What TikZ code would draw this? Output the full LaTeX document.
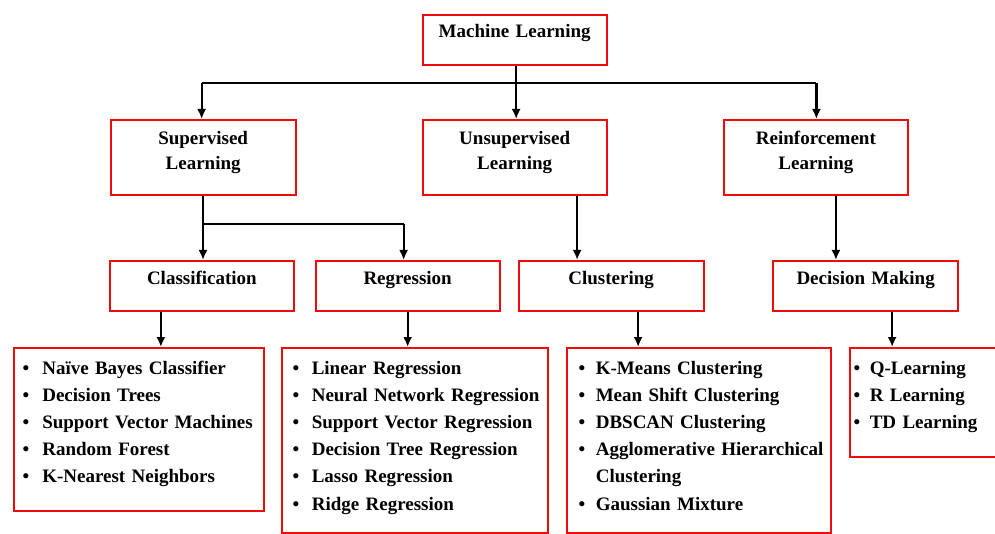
\documentclass[tikz,border=0pt]{standalone}
\usepackage{fontspec}
\setmainfont{Liberation Serif}
\usetikzlibrary{arrows.meta}
\definecolor{boxred}{RGB}{240,10,10}

\begin{document}
\begin{tikzpicture}[x=1pt, y=-1pt,
    box/.style={draw=boxred, line width=2.3pt, inner sep=0pt, anchor=north west, align=center,
        font=\fontsize{19}{25}\selectfont\bfseries},
    listbox/.style={draw=boxred, line width=2.3pt, inner ysep=0pt, anchor=north west, align=left,
        text height=26pt, font=\fontsize{19}{27.2}\selectfont\bfseries},
    link/.style={line width=2.3pt},
    conn/.style={line width=2.3pt, -{Latex[length=10pt,width=9pt]}}]
    \useasboundingbox (0,0) rectangle (995,534);

    % Root
    \node[box, text width=184pt, text height=22pt, text depth=28pt] (ml) at (421.5,14) {Machine Learning};

    % Learning types
    \node[box, text width=185pt, text height=24pt, text depth=51pt] (sup) at (109.5,119) {Supervised\\Learning};
    \node[box, text width=184pt, text height=24pt, text depth=51pt] (uns) at (421.5,119) {Unsupervised\\Learning};
    \node[box, text width=184.5pt, text height=24pt, text depth=51pt] (rl) at (722.5,119) {Reinforcement\\Learning};

    % Tasks
    \node[box, text width=184.5pt, text height=23pt, text depth=27pt] (cla) at (108.5,260) {Classification};
    \node[box, text width=184pt, text height=23pt, text depth=27pt] (reg) at (314.5,260) {Regression};
    \node[box, text width=185pt, text height=23pt, text depth=27pt] (clu) at (517.5,260) {Clustering};
    \node[box, text width=185pt, text height=23pt, text depth=27pt] (dec) at (772,260) {Decision Making};

    % Algorithms
    \node[listbox, inner xsep=9pt, text width=232.5pt, text depth=136.5pt] (clalist) at (12.5,347) {%
        \begin{tabular}[t]{@{}l@{\hspace{13pt}}l@{}}
        \textbullet & Naïve Bayes Classifier\\
        \textbullet & Decision Trees\\
        \textbullet & Support Vector Machines\\
        \textbullet & Random Forest\\
        \textbullet & K-Nearest Neighbors
        \end{tabular}};
    \node[listbox, inner xsep=11pt, text width=244pt, text depth=159pt] (reglist) at (280.5,347) {%
        \begin{tabular}[t]{@{}l@{\hspace{12.5pt}}l@{}}
        \textbullet & Linear Regression\\
        \textbullet & Neural Network Regression\\
        \textbullet & Support Vector Regression\\
        \textbullet & Decision Tree Regression\\
        \textbullet & Lasso Regression\\
        \textbullet & Ridge Regression
        \end{tabular}};
    \node[listbox, inner xsep=12pt, text width=240.5pt, text depth=158.5pt] (clulist) at (565.5,347) {%
        \begin{tabular}[t]{@{}l@{\hspace{10.5pt}}l@{}}
        \textbullet & K-Means Clustering\\
        \textbullet & Mean Shift Clustering\\
        \textbullet & DBSCAN Clustering\\
        \textbullet & Agglomerative Hierarchical\\
                    & Clustering\\
        \textbullet & Gaussian Mixture
        \end{tabular}};
    \node[listbox, inner xsep=4pt, text width=150pt, text depth=83pt] (declist) at (848.5,347) {%
        \begin{tabular}[t]{@{}l@{\hspace{9.5pt}}l@{}}
        \textbullet & Q-Learning\\
        \textbullet & R Learning\\
        \textbullet & TD Learning
        \end{tabular}};

    % Root to learning types
    \coordinate (fork) at (515,83);
    \draw[conn] ([xshift=1.5pt]ml.south) -- ([xshift=1.5pt]ml.south |- uns.north);
    \draw[link] ([xshift=-1.5pt]sup.north |- fork) -- ([xshift=0.5pt]rl.north |- fork);
    \draw[conn] ([xshift=-1.5pt]sup.north |- fork) -- ([xshift=-1.5pt]sup.north);
    \draw[conn] ([xshift=0.5pt]rl.north |- fork) -- ([xshift=0.5pt]rl.north);

    % Learning types to tasks
    \coordinate (supfork) at (203,224);
    \draw[link] (supfork |- sup.south) -- (supfork) -- ([xshift=-4pt]reg.north |- supfork);
    \draw[conn] (supfork) -- (supfork |- cla.north);
    \draw[conn] ([xshift=-4pt]reg.north |- supfork) -- ([xshift=-4pt]reg.north);
    \draw[conn] ([xshift=62.5pt]uns.south) -- ([xshift=62.5pt]uns.south |- clu.north);
    \draw[conn] ([xshift=20pt]rl.south) -- ([xshift=20pt]rl.south |- dec.north);

    % Tasks to algorithms
    \draw[conn] ([xshift=-41pt]cla.south) -- ([xshift=-41pt]cla.south |- clalist.north);
    \draw[conn] (reg.south) -- (reg.south |- reglist.north);
    \draw[conn] ([xshift=27pt]clu.south) -- ([xshift=27pt]clu.south |- clulist.north);
    \draw[conn] ([xshift=26.5pt]dec.south) -- ([xshift=26.5pt]dec.south |- declist.north);
\end{tikzpicture}
\end{document}
